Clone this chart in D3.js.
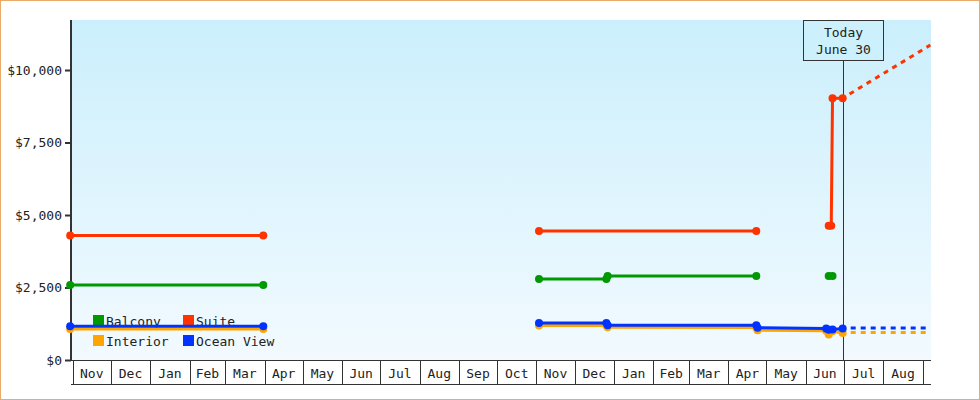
<!DOCTYPE html>
<html><head><meta charset="utf-8">
<script src="https://cdn.jsdelivr.net/npm/d3@7"></script>
<style>body{margin:0;background:#fff}svg{display:block}text{font-family:"DejaVu Sans Mono",monospace;font-size:13px;fill:#222}</style>
</head><body><svg id="c" width="980" height="400"></svg>
<script>
// ---- data ----
const seriesNames = ["Balcony", "Suite", "Interior", "Ocean View"];
const seriesColors = ["#009900", "#ff3300", "#ffa500", "#0033ff"];
const legendOrder = ["Balcony", "Suite", "Interior", "Ocean View"];

const balconyDates = ["2012-10-30","2013-03-31",null,"2013-11-03","2013-12-26","2013-12-27","2014-04-23",null,"2014-06-19","2014-06-22"];
const balconyValues = [2590, 2590, null, 2790, 2790, 2900, 2900, null, 2900, 2900];

const suiteDates = ["2012-10-30","2013-03-31",null,"2013-11-03","2014-04-23",null,"2014-06-19","2014-06-21","2014-06-22","2014-06-30"];
const suiteValues = [4290, 4290, null, 4450, 4450, null, 4630, 4630, 9030, 9030];

const interiorDates = ["2012-10-30","2013-03-31",null,"2013-11-03","2013-12-26","2013-12-27","2014-04-23","2014-04-24","2014-06-17","2014-06-19","2014-06-22","2014-06-30"];
const interiorValues = [1070, 1070, null, 1190, 1190, 1130, 1120, 1030, 1010, 880, 990, 930];

const oceanDates = ["2012-10-30","2013-03-31",null,"2013-11-03","2013-12-26","2013-12-27","2014-04-23","2014-04-24","2014-06-17","2014-06-19","2014-06-22","2014-06-30"];
const oceanValues = [1160, 1160, null, 1280, 1280, 1200, 1200, 1110, 1090, 1040, 1050, 1090];

const forecastDates = ["2014-06-30", "2014-09-07"];
const suiteForecast = [9030, 10860];
const interiorForecast = [950, 950];
const oceanForecast = [1100, 1100];

const yTicks = [0, 2500, 5000, 7500, 10000];
const todayDate = "2014-06-30";
const todayLabel = ["Today", "June 30"];

// ---- chart ----
const parse = d3.utcParse("%Y-%m-%d");
const svg = d3.select("#c");
const L = 71, R = 931, T = 20, B = 360, AX = 384.5;

const x = d3.scaleUtc()
  .domain([Date.UTC(2012, 9, 30, 16), Date.UTC(2014, 8, 7, 12)])
  .range([L, R]);
const y = d3.scaleLinear().domain([0, 11725]).range([B, T]);

svg.append("rect").attr("x", 0.5).attr("y", 0.5).attr("width", 979).attr("height", 399)
  .attr("fill", "#fff").attr("stroke", "#eaab68");

const defs = svg.append("defs");
const g = defs.append("linearGradient").attr("id", "bg").attr("x1", 0).attr("y1", 0).attr("x2", 0).attr("y2", 1);
g.append("stop").attr("offset", "0%").attr("stop-color", "#cbeffc");
g.append("stop").attr("offset", "100%").attr("stop-color", "#f2faff");

svg.append("rect").attr("x", L).attr("y", T).attr("width", R - L).attr("height", B - T).attr("fill", "url(#bg)");

// x axis cells
const months = d3.utcMonth.range(x.domain()[0], x.domain()[1]);
const fmtM = d3.utcFormat("%b");
const ax = svg.append("g");
ax.selectAll("line.m").data(months).join("line").attr("class", "m")
  .attr("x1", d => Math.round(x(d)) + 0.5).attr("x2", d => Math.round(x(d)) + 0.5)
  .attr("y1", B).attr("y2", AX).attr("stroke", "#333");
ax.selectAll("text").data(months.filter(d => d3.utcMonth.offset(d, 1) <= x.domain()[1])).join("text")
  .attr("x", d => (x(d) + x(d3.utcMonth.offset(d, 1))) / 2).attr("y", 378)
  .attr("text-anchor", "middle").text(d => fmtM(d));
ax.append("line").attr("x1", L).attr("x2", R).attr("y1", B + 0.5).attr("y2", B + 0.5).attr("stroke", "#333");
ax.append("line").attr("x1", L).attr("x2", R).attr("y1", AX).attr("y2", AX).attr("stroke", "#333");

// y axis
const yAxis = svg.append("g").attr("transform", `translate(${L},0)`)
  .call(d3.axisLeft(y).tickValues(yTicks).tickFormat(d3.format("$,")).tickSize(6).tickPadding(3));
yAxis.select(".domain").remove();
yAxis.selectAll(".tick line").attr("stroke", "#333").attr("stroke-width", 2);
yAxis.selectAll(".tick text").attr("font-family", null).attr("font-size", null).attr("fill", "#222");
svg.append("line").attr("x1", L).attr("x2", L).attr("y1", T).attr("y2", B + 1)
  .attr("stroke", "#333").attr("stroke-width", 2);

// legend
const leg = svg.append("g");
legendOrder.forEach((name, i) => {
  const col = i % 2, row = Math.floor(i / 2);
  const c = seriesColors[seriesNames.indexOf(name)];
  const lx = 93 + col * 90, ly = 315 + row * 20;
  leg.append("rect").attr("x", lx).attr("y", ly).attr("width", 11).attr("height", 11).attr("fill", c);
  leg.append("text").attr("x", lx + 13).attr("y", ly + 10.5).text(name);
});

// today marker
const tx = x(parse(todayDate));
svg.append("line").attr("x1", Math.round(tx) + 0.5).attr("x2", Math.round(tx) + 0.5)
  .attr("y1", 60.5).attr("y2", B).attr("stroke", "#333");
svg.append("rect").attr("x", Math.round(tx) - 39.5).attr("y", 20.5).attr("width", 80).attr("height", 40)
  .attr("fill", "#ccf0fc").attr("stroke", "#333");
todayLabel.forEach((t, i) => svg.append("text").attr("x", Math.round(tx) + 0.5).attr("y", 37 + i * 17)
  .attr("text-anchor", "middle").text(t));

// series
function pts(dates, vals) {
  return dates.map((d, i) => d === null ? null : { d: parse(d), v: vals[i] });
}
const series = {
  "Balcony": pts(balconyDates, balconyValues),
  "Suite": pts(suiteDates, suiteValues),
  "Interior": pts(interiorDates, interiorValues),
  "Ocean View": pts(oceanDates, oceanValues)
};
const forecasts = {
  "Suite": forecastDates.map((d, i) => ({ d: parse(d), v: suiteForecast[i] })),
  "Interior": forecastDates.map((d, i) => ({ d: parse(d), v: interiorForecast[i] })),
  "Ocean View": forecastDates.map((d, i) => ({ d: parse(d), v: oceanForecast[i] }))
};
const line = d3.line().defined(p => p !== null).x(p => x(p.d)).y(p => y(p.v));

const drawOrder = ["Balcony", "Suite", "Interior", "Ocean View"];
const lg = svg.append("g");
drawOrder.forEach(name => {
  const c = seriesColors[seriesNames.indexOf(name)];
  if (forecasts[name]) {
    lg.append("path").attr("d", line(forecasts[name])).attr("fill", "none")
      .attr("stroke", c).attr("stroke-width", 3).attr("stroke-dasharray", "5,5")
      .attr("stroke-dashoffset", -8);
  }
  lg.append("path").attr("d", line(series[name])).attr("fill", "none")
    .attr("stroke", c).attr("stroke-width", 3).attr("stroke-linejoin", "round");
  lg.selectAll(null).data(series[name].filter(p => p !== null)).join("circle")
    .attr("cx", p => x(p.d)).attr("cy", p => y(p.v)).attr("r", 4).attr("fill", c);
});
</script></body></html>
